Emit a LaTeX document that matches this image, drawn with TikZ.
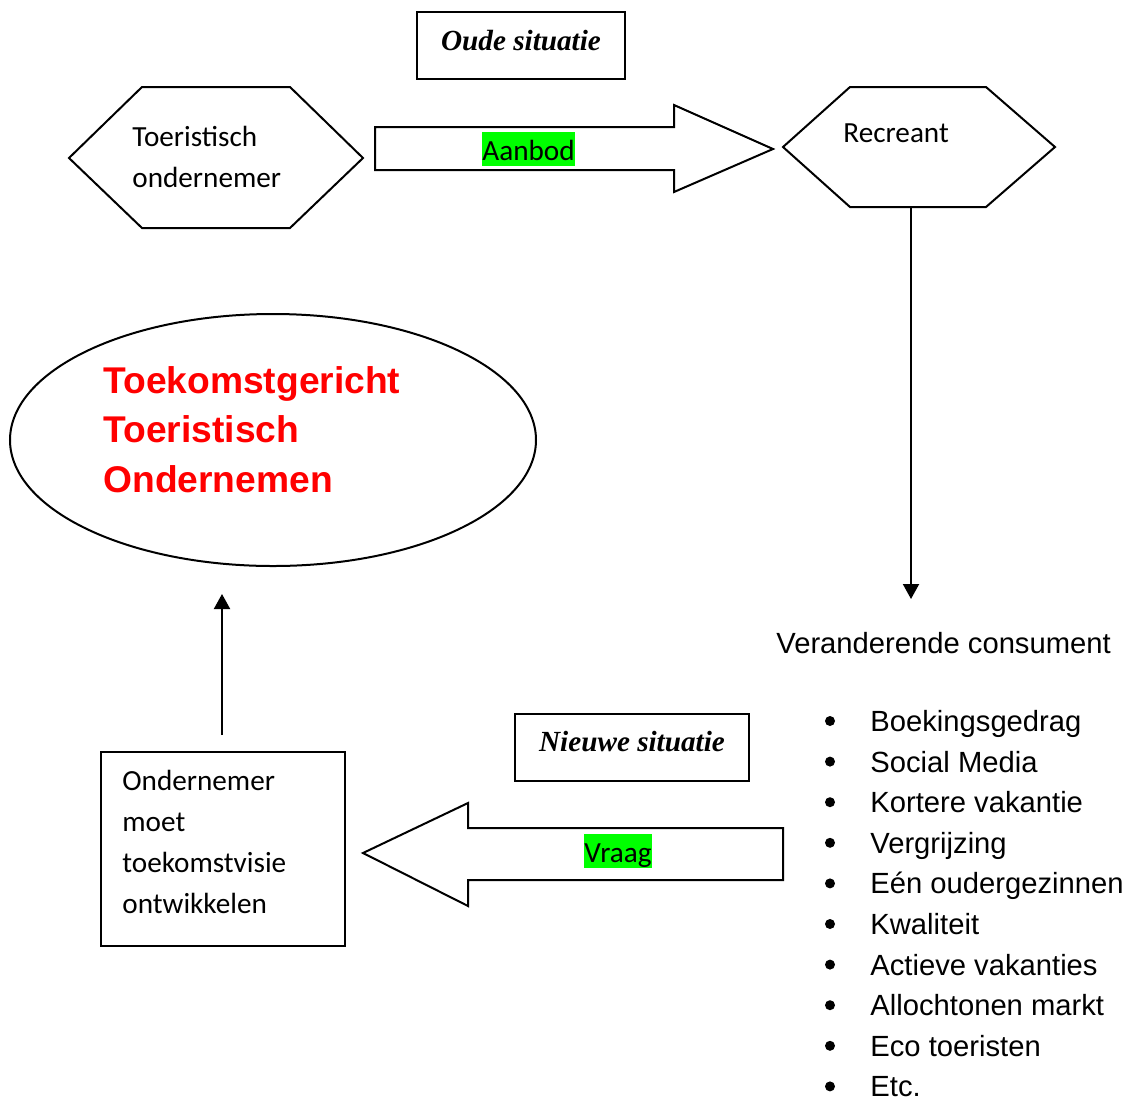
\documentclass[tikz,border=0pt]{standalone}
\usepackage{fontspec}
\setmainfont{Liberation Sans}
\newfontfamily\calibrifont{Carlito}
\newfontfamily\timesfont{Liberation Serif}
\usetikzlibrary{arrows.meta, positioning, shapes.geometric}
\definecolor{markgreen}{RGB}{0,255,0}
\tikzset{
    line/.style={draw, line width=1pt}, % all outlines
    arrow/.style={line width=1pt, -{Triangle[width=8pt, length=7.5pt]}},
    situatie/.style={line, inner sep=0pt, minimum height=33.5pt,
        font=\timesfont\bfseries\itshape\fontsize{14.6}{17}\selectfont},
    hexatext/.style={anchor=base west, inner sep=0pt, align=left,
        font=\calibrifont\fontsize{14.6}{20.5}\selectfont},
    marker/.style={anchor=base west, inner sep=0pt, fill=markgreen,
        text height=14pt, text depth=3pt, font=\calibrifont\fontsize{14.6}{17}\selectfont},
    listtext/.style={inner sep=0pt, font=\fontsize{14.6}{20.35}\selectfont},
    bullet/.style={circle, fill, inner sep=0pt, minimum size=5pt},
    titel/.style={anchor=base west, inner sep=0pt, align=left, text width=170pt, text=red,
        font=\bfseries\fontsize{18.6}{24.75}\selectfont},
}
\begin{document}
\begin{tikzpicture}[x=0.5pt, y=-0.5pt]
    \useasboundingbox (0,0) rectangle (1126,1099);

    % Oude situatie
    \node[situatie, minimum width=104pt, text height=11pt, text depth=6pt] (oud) at (521,45.5) {Oude situatie};

    % Zeshoeken
    \draw[line] (69,158) -- (142,87) -- (290,87) -- (363,158) -- (290,228) -- (142,228) -- cycle;
    \node[hexatext, text width=90pt] (ondernemer) at (132,146) {Toeristisch\\ondernemer};
    \draw[line] (783,147) -- (850,87) -- (986,87) -- (1055,147) -- (986,207) -- (850,207) -- cycle;
    \node[hexatext] (recreant) at (843,142) {Recreant};

    % Aanbod
    \draw[line] (375,127) -- (674,127) -- (674,105) -- (773,149) -- (674,192) -- (674,170) -- (375,170) -- cycle;
    \node[marker] (aanbod) at (482,160) {Aanbod};

    % Recreant naar consument
    \coordinate (recreant-s) at (911,207);
    \coordinate (consument-n) at (911,599);
    \draw[arrow] (recreant-s) -- (consument-n);
    \node[listtext, anchor=base west] (consument) at (776,653) {Veranderende consument};

    % Ellips
    \node[line, ellipse, minimum width=263pt, minimum height=126pt] (toekomst) at (273,440) {};
    \node[titel] (titel) at (103,393) {Toekomstgericht\\Toeristisch\\Ondernemen};

    % Ondernemer
    \node[line, minimum width=122pt, minimum height=97pt] (box) at (223,849) {};
    \node[hexatext, text width=110pt] (visie) at (122,790) {Ondernemer\\moet\\toekomstvisie\\ontwikkelen};
    \coordinate (box-n) at (222,735);
    \coordinate (toekomst-s) at (222,594);
    \draw[arrow] (box-n) -- (toekomst-s);

    % Nieuwe situatie
    \node[situatie, minimum width=117pt, text height=11pt, text depth=7.5pt] (nieuw) at (632,747.5) {Nieuwe situatie};

    % Vraag
    \draw[line] (783,828) -- (468,828) -- (468,803) -- (363,853) -- (468,906) -- (468,880) -- (783,880) -- cycle;
    \node[marker] (vraag) at (584,862) {Vraag};

    % Lijst
    \foreach \entry [count=\i from 0] in {Boekingsgedrag, Social Media, Kortere vakantie, Vergrijzing,
        Eén oudergezinnen, Kwaliteit, Actieve vakanties, Allochtonen markt, Eco toeristen, Etc.} {
        \node[bullet] (dot\i) at (830,{721+40.6*\i}) {};
        \node[listtext, anchor=base west] (item\i) at (870,{731.5+40.6*\i}) {\entry};
    }
\end{tikzpicture}
\end{document}
